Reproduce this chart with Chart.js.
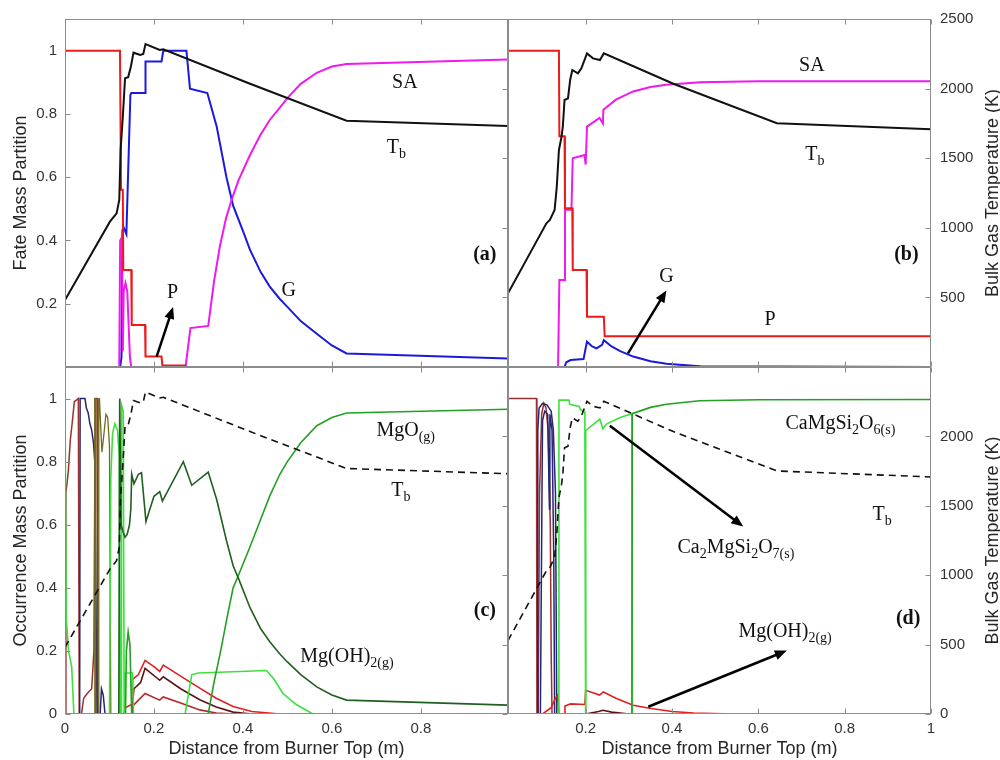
<!DOCTYPE html>
<html><head><meta charset="utf-8">
<script src="https://cdn.jsdelivr.net/npm/chart.js@4.4.1/dist/chart.umd.min.js"></script>
<style>
html,body{margin:0;padding:0;background:#fff;width:1000px;height:760px;overflow:hidden}
canvas{position:absolute;left:0;top:0}
</style></head><body>
<canvas id="ca" width="1000" height="760"></canvas>
<canvas id="cb" width="1000" height="760"></canvas>
<canvas id="cc" width="1000" height="760"></canvas>
<canvas id="cd" width="1000" height="760"></canvas>
<script>
// ---------- tick values and labels ----------
const FRAC_TICKS = [0,0.2,0.4,0.6,0.8,1];
const TEMP_TICKS = [0,500,1000,1500,2000,2500];
const XTICKS_AC = [0,0.2,0.4,0.6,0.8];
const XTICKS_BD = [0.2,0.4,0.6,0.8,1];
const fracLabelsA = ['','0.2','0.4','0.6','0.8','1'];
const fracLabelsC = ['0','0.2','0.4','0.6','0.8','1'];
const tempLabelsB = ['','500','1000','1500','2000','2500'];
const tempLabelsD = ['0','500','1000','1500','2000',''];
const xLabelsC = ['0','0.2','0.4','0.6','0.8'];
const xLabelsD = ['0.2','0.4','0.6','0.8','1'];

// ---------- bulk gas temperature (K) ----------
const tbX_ac = [0,0.101,0.116,0.122,0.125,0.130,0.135,0.142,0.148,0.154,0.169,0.176,0.181,0.213,0.221,0.416,0.633,0.996];
const tbK_ac = [481,1044,1104,1200,1559,1798,2074,2081,2157,2258,2241,2248,2320,2277,2282,2035,1769,1731];
const tbX_bd = [0.02,0.109,0.117,0.128,0.133,0.138,0.144,0.147,0.151,0.159,0.164,0.169,0.182,0.19,0.203,0.217,0.233,0.242,0.403,0.643,1.0];
const tbK_bd = [529,1032,1056,1128,1295,1559,1654,1726,1918,1930,2062,2134,2110,2146,2253,2217,2205,2253,2035,1751,1708];

// ---------- panel (a) fate ----------
const pX_a = [0,0.1236,0.126,0.130,0.131,0.149,0.150,0.180,0.181,0.217,0.219,0.271,0.273,0.996];
const pY_a = [1,1,0.56,0.56,0.307,0.307,0.133,0.133,0.033,0.033,0.005,0.005,0,0];
const saX_a = [0,0.122,0.124,0.128,0.130,0.132,0.136,0.140,0.146,0.149,0.271,0.282,0.322,0.335,0.348,0.362,0.375,0.39,0.416,0.438,0.46,0.483,0.5,0.53,0.566,0.6,0.633,0.996];
const saY_a = [0,0,0.40,0.41,0.05,0.24,0.265,0.24,0.03,0,0,0.123,0.13,0.27,0.38,0.47,0.53,0.59,0.67,0.73,0.78,0.82,0.85,0.895,0.93,0.95,0.958,0.972];
const gX_a = [0,0.124,0.127,0.129,0.131,0.138,0.147,0.149,0.180,0.181,0.217,0.221,0.273,0.281,0.32,0.341,0.363,0.378,0.40,0.416,0.44,0.46,0.483,0.5,0.53,0.566,0.6,0.633,0.996];
const gY_a = [0,0,0.03,0.43,0.444,0.42,0.86,0.866,0.866,0.966,0.966,1.0,1.0,0.88,0.866,0.76,0.60,0.51,0.43,0.37,0.30,0.255,0.215,0.19,0.145,0.105,0.068,0.043,0.027];
const zeroX_a = [0,0.996];
const zeroY_a = [0,0];

// ---------- panel (b) fate ----------
const pX_b = [0.02,0.138,0.139,0.151,0.152,0.169,0.170,0.202,0.203,0.242,0.244,1];
const pY_b = [1,1,0.729,0.729,0.502,0.502,0.307,0.307,0.159,0.159,0.097,0.097];
const saX_b = [0.02,0.136,0.139,0.151,0.152,0.167,0.17,0.197,0.2,0.203,0.232,0.24,0.241,0.27,0.31,0.35,0.387,0.465,0.6,1];
const saY_b = [0,0,0.275,0.275,0.497,0.497,0.66,0.67,0.64,0.76,0.787,0.77,0.813,0.845,0.871,0.885,0.892,0.9,0.903,0.903];
const gX_b = [0.02,0.151,0.155,0.165,0.195,0.2,0.203,0.215,0.225,0.238,0.242,0.26,0.28,0.31,0.35,0.387,0.465,1];
const gY_b = [0,0,0.015,0.022,0.025,0.06,0.08,0.065,0.059,0.07,0.085,0.065,0.05,0.033,0.018,0.01,0.002,0];
const zeroX_b = [0.02,1];
const zeroY_b = [0,0];

// ---------- panel (c) occurrence ----------
const limeX_c = [0,0.003,0.008,0.015,0.02,0.1,0.103,0.107,0.112,0.118,0.122,0.124,0.126,0.127,0.131,0.133,0.135,0.152,0.154,0.27,0.285,0.3,0.453,0.47,0.49,0.52,0.557,0.996];
const limeY_c = [1,0.3,0.2,0.15,0,0,0.75,0.89,0.92,0.9,0.82,0,0,0.98,0.96,0,0.13,0.13,0,0,0.125,0.13,0.138,0.11,0.065,0.03,0,0];
const mgoX_c = [0,0.136,0.138,0.142,0.146,0.150,0.322,0.335,0.35,0.365,0.378,0.39,0.416,0.438,0.46,0.483,0.5,0.53,0.566,0.6,0.633,0.996];
const mgoY_c = [0,0,0.2,0.26,0.22,0,0,0.1,0.2,0.31,0.40,0.44,0.53,0.61,0.69,0.76,0.80,0.86,0.914,0.94,0.954,0.966];
const mgohX_c = [0,0.121,0.123,0.126,0.13,0.135,0.14,0.145,0.148,0.15,0.155,0.165,0.172,0.182,0.2,0.213,0.219,0.266,0.285,0.322,0.341,0.363,0.378,0.39,0.416,0.44,0.46,0.483,0.5,0.53,0.566,0.6,0.633,0.996];
const mgohY_c = [0,0,1.0,0.6,0.58,0.56,0.57,0.6,0.65,0.76,0.73,0.76,0.765,0.61,0.69,0.705,0.675,0.80,0.725,0.767,0.68,0.55,0.47,0.43,0.337,0.27,0.23,0.19,0.165,0.125,0.086,0.06,0.044,0.028];
const redX_c = [0,0.133,0.135,0.15,0.152,0.165,0.18,0.2,0.213,0.221,0.26,0.303,0.34,0.378,0.42,0.483,0.996];
const redY_c = [0,0,0.02,0.03,0.11,0.125,0.17,0.15,0.135,0.155,0.12,0.082,0.05,0.024,0.008,0,0];
const maroonX_c = [0,0.15,0.155,0.17,0.18,0.213,0.221,0.26,0.303,0.34,0.378,0.42,0.996];
const maroonY_c = [0,0,0.08,0.1,0.145,0.107,0.118,0.08,0.045,0.022,0.006,0,0];
const dredX_c = [0,0.15,0.154,0.18,0.213,0.221,0.26,0.303,0.34,0.38,0.996];
const dredY_c = [0,0,0.028,0.065,0.044,0.054,0.035,0.013,0.003,0,0];
const navyX_c = [0,0.033,0.034,0.045,0.048,0.052,0.056,0.06,0.064,0.067,0.07,0.072,0.079,0.082,0.086,0.09,0.996];
const navyY_c = [0,0,1,1,0.97,0.955,0.92,0.9,0.86,0.8,0.3,0,0,0.08,0.06,0,0];
const brownX_c = [0,0.002,0.0075,0.012,0.016,0.021,0.03,0.032,0.037,0.042,0.05,0.06,0.065,0.068,0.072,0.074,0.996];
const brownY_c = [0,0.7,0.77,0.87,0.92,0.99,1,0,0,0.05,0.065,0.08,0.2,1,1,0,0];
const oliveX_c = [0,0.066,0.067,0.0685,0.069,0.0755,0.076,0.0775,0.079,0.083,0.087,0.092,0.096,0.1,0.103,0.996];
const oliveY_c = [0,0,1,1,0,0,1,1,0.95,0.83,0.88,0.95,0.94,0.85,0,0];

// ---------- panel (d) occurrence ----------
const brownX_d = [0.02,0.086,0.087,0.09,0.093,0.098,0.103,0.108,0.113,0.118,0.12,0.122,1];
const brownY_d = [1,1,0,0,0.7,0.95,0.985,0.97,0.9,0.6,0.2,0,0];
const maroonX_d = [0.02,0.2,0.23,0.24,0.26,0.3,1];
const maroonY_d = [0,0,0.008,0.012,0.006,0,0];
const navyX_d = [0.02,0.088,0.089,0.092,0.1,0.11,0.12,0.125,0.13,0.133,1];
const navyY_d = [0,0,0.9,0.97,0.985,0.98,0.96,0.9,0.7,0,0];
const navy2X_d = [0.02,0.095,0.1,0.105,0.112,0.116,0.117,0.122,0.126,0.128,1];
const navy2Y_d = [0,0,0.93,0.96,0.95,0.65,0.95,0.9,0.5,0,0];
const s1X_d = [0.02,0.136,0.138,0.161,0.163,0.185,0.188,0.198,0.2,1];
const s1Y_d = [0,0,0.995,0.995,0.982,0.975,0.965,0.958,0,0];
const c2msX_d = [0.02,0.199,0.2,0.215,0.2325,0.24,0.248,0.28,0.307,0.308,1];
const c2msY_d = [0,0,0.898,0.915,0.935,0.904,0.919,0.94,0.952,0,0];
const cmsX_d = [0.02,0.307,0.308,0.35,0.387,0.464,0.6,1];
const cmsY_d = [0,0,0.952,0.972,0.982,0.993,0.996,0.997];
const redX_d = [0.02,0.1,0.12,0.13,0.135,0.138,0.15,0.152,0.165,0.198,0.2,0.232,0.241,0.27,0.31,0.348,0.4,0.45,0.54,1];
const redY_d = [0,0,0.02,0.05,0.06,0,0,0.025,0.032,0.03,0.075,0.06,0.07,0.05,0.028,0.018,0.008,0.003,0,0];

// ---------- helpers ----------
Chart.defaults.font.family = 'Liberation Sans';
function pts(xs, ys){ return xs.map((x,i)=>({x:x, y:ys[i]})); }
function ds(xs, ys, color, width, axis, dash){
  return {data: pts(xs, ys), borderColor: color, backgroundColor: color, borderWidth: width,
          yAxisID: axis || 'y', borderDash: dash || [], pointRadius: 0, fill: false, tension: 0};
}
function drawRich(ctx, str, x, y, size, bold){
  const parts = []; const re = /_\{([^}]*)\}/g; let last = 0, m;
  while ((m = re.exec(str))) {
    if (m.index > last) parts.push({t: str.slice(last, m.index), s: false});
    parts.push({t: m[1], s: true}); last = re.lastIndex;
  }
  if (last < str.length) parts.push({t: str.slice(last), s: false});
  const fMain = (bold ? 'bold ' : '') + size + 'px "Liberation Serif"';
  const fSub = Math.round(size * 0.68) + 'px "Liberation Serif"';
  let w = 0;
  parts.forEach(p => { ctx.font = p.s ? fSub : fMain; p.w = ctx.measureText(p.t).width; w += p.w; });
  let cx = x - w / 2;
  const base = y + size * 0.33;
  ctx.fillStyle = '#111'; ctx.textAlign = 'left'; ctx.textBaseline = 'alphabetic';
  parts.forEach(p => { ctx.font = p.s ? fSub : fMain; ctx.fillText(p.t, cx, p.s ? base + size * 0.25 : base); cx += p.w; });
}
function drawArrow(ctx, x1, y1, x2, y2){
  const ang = Math.atan2(y2 - y1, x2 - x1), L = 12, W = 5;
  const c = Math.cos(ang), s = Math.sin(ang);
  ctx.strokeStyle = '#000'; ctx.fillStyle = '#000'; ctx.lineWidth = 2.5;
  ctx.beginPath(); ctx.moveTo(x1, y1); ctx.lineTo(x2 - L * 0.7 * c, y2 - L * 0.7 * s); ctx.stroke();
  ctx.beginPath(); ctx.moveTo(x2, y2);
  ctx.lineTo(x2 - L * c + W * s, y2 - L * s - W * c);
  ctx.lineTo(x2 - L * c - W * s, y2 - L * s + W * c);
  ctx.closePath(); ctx.fill();
}
function makeDeco(p){
  return {
    id: 'deco',
    afterDraw(chart){
      const ctx = chart.ctx, a = chart.chartArea;
      const sx = chart.scales.x, sy = chart.scales.y, st = chart.scales.t;
      ctx.save();
      ctx.strokeStyle = '#8c8c8c'; ctx.lineWidth = 1;
      const l = Math.round(a.left) + 0.5, t = Math.round(a.top) + 0.5, r = Math.round(a.right) - 0.5, b = Math.round(a.bottom) - 0.5;
      ctx.strokeRect(l, t, r - l, b - t);
      ctx.beginPath();
      for (const v of p.xTicks) { const x = Math.round(sx.getPixelForValue(v)) + 0.5; ctx.moveTo(x, b); ctx.lineTo(x, b - 5); ctx.moveTo(x, t); ctx.lineTo(x, t + 5); }
      if (p.fracLabels) for (const v of FRAC_TICKS) { const y = Math.round(sy.getPixelForValue(v)) + 0.5; ctx.moveTo(l, y); ctx.lineTo(l + 5, y); }
      for (const v of TEMP_TICKS) { const y = Math.round(st.getPixelForValue(v)) + 0.5; ctx.moveTo(r, y); ctx.lineTo(r - 5, y); }
      ctx.stroke();
      if (p.tempLabels) {
        ctx.save();
        ctx.translate(998, (a.top + a.bottom) / 2);
        ctx.rotate(-Math.PI / 2);
        ctx.font = '18px "Liberation Sans"'; ctx.fillStyle = '#262626';
        ctx.textAlign = 'center'; ctx.textBaseline = 'alphabetic';
        ctx.fillText('Bulk Gas Temperature (K)', 0, 0);
        ctx.restore();
      }
      for (const ar of p.arrows) drawArrow(ctx, sx.getPixelForValue(ar[0]), sy.getPixelForValue(ar[1]), sx.getPixelForValue(ar[2]), sy.getPixelForValue(ar[3]));
      for (const n of p.notes) drawRich(ctx, n.t, sx.getPixelForValue(n.x), sy.getPixelForValue(n.y), 20, n.bold);
      ctx.restore();
    }
  };
}
function makePanel(id, p){
  const [L, T, R, B] = p.area;
  const leftShown = !!p.fracLabels, rightLabeled = !!p.tempLabels, bottomLabeled = !!p.xLabels;
  const tickFont = {family: 'Liberation Sans', size: 15};
  const titleFont = {family: 'Liberation Sans', size: 18, lineHeight: 1.2};
  const zeroPad = s => { s.paddingLeft = 0; s.paddingRight = 0; s.paddingTop = 0; s.paddingBottom = 0; };
  new Chart(document.getElementById(id), {
    type: 'line',
    data: {datasets: p.datasets},
    options: {
      responsive: false, animation: false, devicePixelRatio: 1,
      layout: {padding: {left: leftShown ? 0 : L, top: T, right: rightLabeled ? 0 : 1000 - R, bottom: bottomLabeled ? 0 : 760 - B}},
      plugins: {legend: {display: false}, tooltip: {enabled: false}},
      elements: {point: {radius: 0}, line: {tension: 0}},
      scales: {
        x: {type: 'linear', position: 'bottom', min: p.xRange[0], max: p.xRange[1],
            afterBuildTicks: s => { s.ticks = p.xTicks.map(v => ({value: v})); },
            ticks: {display: bottomLabeled, autoSkip: false, maxRotation: 0, minRotation: 0, padding: 6, font: tickFont, color: '#333',
                    callback: (v, i) => bottomLabeled ? p.xLabels[i] : ''},
            grid: {display: false, drawTicks: false}, border: {display: false},
            title: {display: bottomLabeled, text: 'Distance from Burner Top (m)', font: titleFont, color: '#262626', padding: {top: 0, bottom: 0}},
            afterFit: s => { s.height = bottomLabeled ? 760 - B : 0; zeroPad(s); }},
        y: {type: 'linear', display: leftShown, position: 'left', min: 0, max: 1.1,
            afterBuildTicks: s => { s.ticks = FRAC_TICKS.map(v => ({value: v})); },
            ticks: {padding: 8, font: tickFont, color: '#333', callback: (v, i) => leftShown ? p.fracLabels[i] : ''},
            grid: {display: false, drawTicks: false}, border: {display: false},
            title: {display: leftShown, text: p.leftTitle || '', font: titleFont, color: '#262626', padding: {top: 10, bottom: 0}},
            afterFit: s => { s.width = leftShown ? L : 0; zeroPad(s); }},
        t: {type: 'linear', position: 'right', min: 0, max: 2500,
            afterBuildTicks: s => { s.ticks = TEMP_TICKS.map(v => ({value: v})); },
            ticks: {display: rightLabeled, padding: 9, font: tickFont, color: '#333', callback: (v, i) => rightLabeled ? p.tempLabels[i] : ''},
            grid: {display: false, drawTicks: false}, border: {display: false},
            afterFit: s => { s.width = rightLabeled ? 1000 - R : 0; zeroPad(s); }}
      }
    },
    plugins: [makeDeco(p)]
  });
}

// ---------- colours ----------
const C = {black:'#111111', red:'#ee1a1a', magenta:'#ee1aee', blue:'#1a1add', zero:'#7ed67e',
  lime:'#3ee03e', mgo:'#23a023', mgoh:'#1f5f1f', red2:'#e02020', maroon:'#5c1414', dred:'#b52828',
  navy:'#262673', brown:'#9a3030', olive:'#716d1f'};

// ---------- panels ----------
makePanel('ca', {
  area: [65, 19, 508, 367], xRange: [0, 0.996], xTicks: XTICKS_AC, xLabels: null,
  fracLabels: fracLabelsA, tempLabels: null, leftTitle: 'Fate Mass Partition',
  datasets: [
    ds(tbX_ac, tbK_ac, C.black, 2, 't'),
    ds(pX_a, pY_a, C.red, 2),
    ds(saX_a, saY_a, C.magenta, 2),
    ds(gX_a, gY_a, C.blue, 2),
    ds(zeroX_a, zeroY_a, C.zero, 2)
  ],
  notes: [{t:'SA', x:0.764, y:0.903}, {t:'T_{b}', x:0.745, y:0.697}, {t:'(a)', x:0.944, y:0.36, bold:true},
          {t:'G', x:0.503, y:0.244}, {t:'P', x:0.242, y:0.238}],
  arrows: [[0.206, 0.033, 0.243, 0.19]]
});
makePanel('cb', {
  area: [508, 19, 931, 367], xRange: [0.02, 1], xTicks: XTICKS_BD, xLabels: null,
  fracLabels: null, tempLabels: tempLabelsB,
  datasets: [
    ds(tbX_bd, tbK_bd, C.black, 2, 't'),
    ds(pX_b, pY_b, C.red, 2),
    ds(saX_b, saY_b, C.magenta, 2),
    ds(gX_b, gY_b, C.blue, 2),
    ds(zeroX_b, zeroY_b, C.zero, 2)
  ],
  notes: [{t:'SA', x:0.724, y:0.956}, {t:'T_{b}', x:0.731, y:0.676}, {t:'(b)', x:0.943, y:0.36, bold:true},
          {t:'P', x:0.627, y:0.154}, {t:'G', x:0.387, y:0.291}],
  arrows: [[0.298, 0.043, 0.387, 0.242]]
});
makePanel('cc', {
  area: [65, 367, 508, 714], xRange: [0, 0.996], xTicks: XTICKS_AC, xLabels: xLabelsC,
  fracLabels: fracLabelsC, tempLabels: null, leftTitle: 'Occurrence Mass Partition',
  datasets: [
    ds(tbX_ac, tbK_ac, C.black, 1.6, 't', [7, 5]),
    ds(mgohX_c, mgohY_c, C.mgoh, 1.6),
    ds(mgoX_c, mgoY_c, C.mgo, 1.6),
    ds(limeX_c, limeY_c, C.lime, 1.6),
    ds(redX_c, redY_c, C.red2, 1.6),
    ds(maroonX_c, maroonY_c, C.maroon, 1.6),
    ds(dredX_c, dredY_c, C.dred, 1.6),
    ds(oliveX_c, oliveY_c, C.olive, 1.3),
    ds(navyX_c, navyY_c, C.navy, 1.5),
    ds(brownX_c, brownY_c, C.brown, 1.5)
  ],
  notes: [{t:'MgO_{(g)}', x:0.766, y:0.903}, {t:'T_{b}', x:0.755, y:0.711}, {t:'(c)', x:0.944, y:0.333, bold:true},
          {t:'Mg(OH)_{2(g)}', x:0.634, y:0.186}],
  arrows: []
});
makePanel('cd', {
  area: [508, 367, 931, 714], xRange: [0.02, 1], xTicks: XTICKS_BD, xLabels: xLabelsD,
  fracLabels: null, tempLabels: tempLabelsD,
  datasets: [
    ds(tbX_bd, tbK_bd, C.black, 1.6, 't', [7, 5]),
    ds(cmsX_d, cmsY_d, C.mgo, 1.6),
    ds(c2msX_d, c2msY_d, C.lime, 1.6),
    ds(s1X_d, s1Y_d, C.lime, 1.6),
    ds(redX_d, redY_d, C.red2, 1.6),
    ds(maroonX_d, maroonY_d, C.maroon, 1.6),
    ds(navyX_d, navyY_d, C.navy, 1.5),
    ds(navy2X_d, navy2Y_d, C.navy, 1.5),
    ds(brownX_d, brownY_d, C.brown, 1.5)
  ],
  notes: [{t:'CaMgSi_{2}O_{6(s)}', x:0.79, y:0.925}, {t:'Ca_{2}MgSi_{2}O_{7(s)}', x:0.548, y:0.531},
          {t:'T_{b}', x:0.887, y:0.635}, {t:'(d)', x:0.947, y:0.305, bold:true}, {t:'Mg(OH)_{2(g)}', x:0.662, y:0.264}],
  arrows: [[0.256, 0.914, 0.565, 0.594], [0.345, 0.023, 0.666, 0.201]]
});
</script>
</body></html>
